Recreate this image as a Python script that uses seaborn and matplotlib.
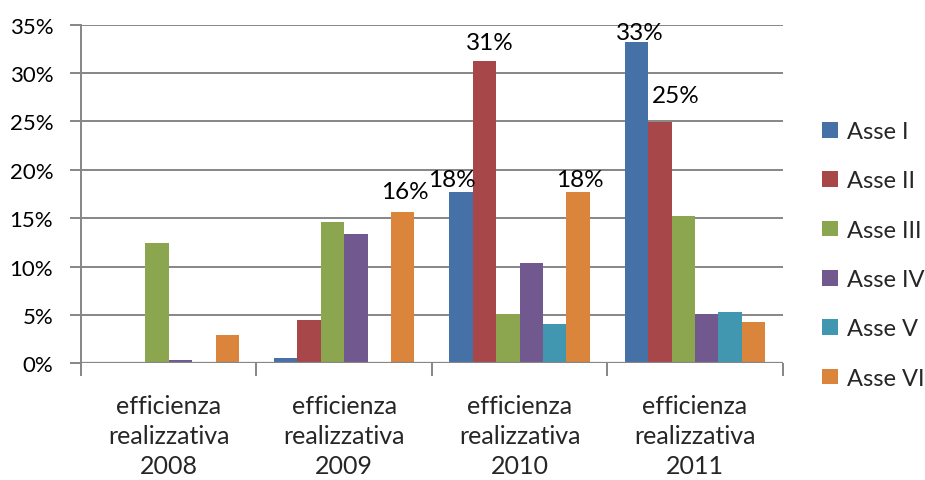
import matplotlib
matplotlib.use("Agg")
import matplotlib.pyplot as plt
import seaborn as sns
import pandas as pd
from matplotlib.ticker import PercentFormatter, FixedLocator
from matplotlib.patches import Patch

# Categories and series
categories = ["efficienza\nrealizzativa\n2008", "efficienza\nrealizzativa\n2009",
              "efficienza\nrealizzativa\n2010", "efficienza\nrealizzativa\n2011"]
series = ["Asse I", "Asse II", "Asse III", "Asse IV", "Asse V", "Asse VI"]

asse_i = [0.0, 0.55, 17.75, 33.25]
asse_ii = [0.0, 4.45, 31.25, 24.9]
asse_iii = [12.45, 14.6, 5.05, 15.2]
asse_iv = [0.3, 13.4, 10.35, 5.05]
asse_v = [0.0, 0.0, 4.1, 5.35]
asse_vi = [2.95, 15.65, 17.7, 4.3]

# Bars that carry a data label: (series, category index, label text)
labelled = [("Asse VI", 1, "16%"), ("Asse I", 2, "18%"), ("Asse II", 2, "31%"),
            ("Asse VI", 2, "18%"), ("Asse I", 3, "33%"), ("Asse II", 3, "25%")]

colors = ["#4571A7", "#A8474A", "#8BA64E", "#71588F", "#4297B0", "#DB843C"]

values = [asse_i, asse_ii, asse_iii, asse_iv, asse_v, asse_vi]
rows = []
for s, vals in zip(series, values):
    for c, v in zip(categories, vals):
        rows.append({"categoria": c, "asse": s, "valore": v})
df = pd.DataFrame(rows)

sns.set_style("white")
plt.rcParams["font.family"] = ["Lato", "DejaVu Sans"]

fig = plt.figure(figsize=(9.25, 4.81), dpi=100)
ax = fig.add_axes([0.0876, 0.2426, 0.7586, 0.704])

sns.barplot(data=df, x="categoria", y="valore", hue="asse", order=categories,
            hue_order=series, palette=colors, width=0.8, saturation=1,
            edgecolor="none", linewidth=0, ax=ax, legend=False)

ax.set_ylim(0, 35)
ax.set_xlim(-0.5, len(categories) - 0.5)
ax.yaxis.set_major_locator(FixedLocator([0, 5, 10, 15, 20, 25, 30, 35]))
ax.yaxis.set_major_formatter(PercentFormatter(decimals=0))
ax.grid(axis="y", color="#868686", linewidth=1.4)
ax.set_axisbelow(True)

for side in ["top", "right", "bottom"]:
    ax.spines[side].set_visible(False)
ax.spines["left"].set_color("#868686")
ax.spines["left"].set_linewidth(1.4)
ax.axhline(0, color="#868686", linewidth=1.6, zorder=3)

ax.tick_params(axis="y", which="both", left=True, length=8, width=1.4,
               color="#868686", labelsize=16, pad=12, labelcolor="black")
# category labels, with ticks drawn between the groups
ax.set_xticks([i for i in range(len(categories))])
ax.set_xticklabels(categories, fontsize=18, linespacing=1.38)
ax.tick_params(axis="x", which="major", length=0, pad=22)
ax.set_xticks([i - 0.5 for i in range(len(categories) + 1)], minor=True)
ax.tick_params(axis="x", which="minor", bottom=True, length=9, width=1.4, color="#868686")
ax.set_xlabel("")
ax.set_ylabel("")

# Data labels above the selected bars
offsets = {("Asse VI", 1): (2, 14), ("Asse I", 2): (-9, 6), ("Asse II", 2): (5, 12),
           ("Asse VI", 2): (2, 6), ("Asse I", 3): (3, 3), ("Asse II", 3): (16, 20)}
for s, ci, text in labelled:
    bar = ax.containers[series.index(s)][ci]
    x = bar.get_x() + bar.get_width() / 2
    y = bar.get_height()
    dx, dy = offsets[(s, ci)]
    ax.annotate(text, (x, y), xytext=(dx, dy), textcoords="offset pixels",
                ha="center", va="baseline", fontsize=17.5, color="black")

handles = [Patch(facecolor=c, edgecolor="none") for c in colors]
fig.legend(handles, series, loc="center left", bbox_to_anchor=(0.889, 0.468),
           frameon=False, fontsize=17, handlelength=0.65, handleheight=0.65,
           handletextpad=0.4, labelspacing=1.2, borderaxespad=0, borderpad=0)

fig.savefig("out.png", dpi=100)
